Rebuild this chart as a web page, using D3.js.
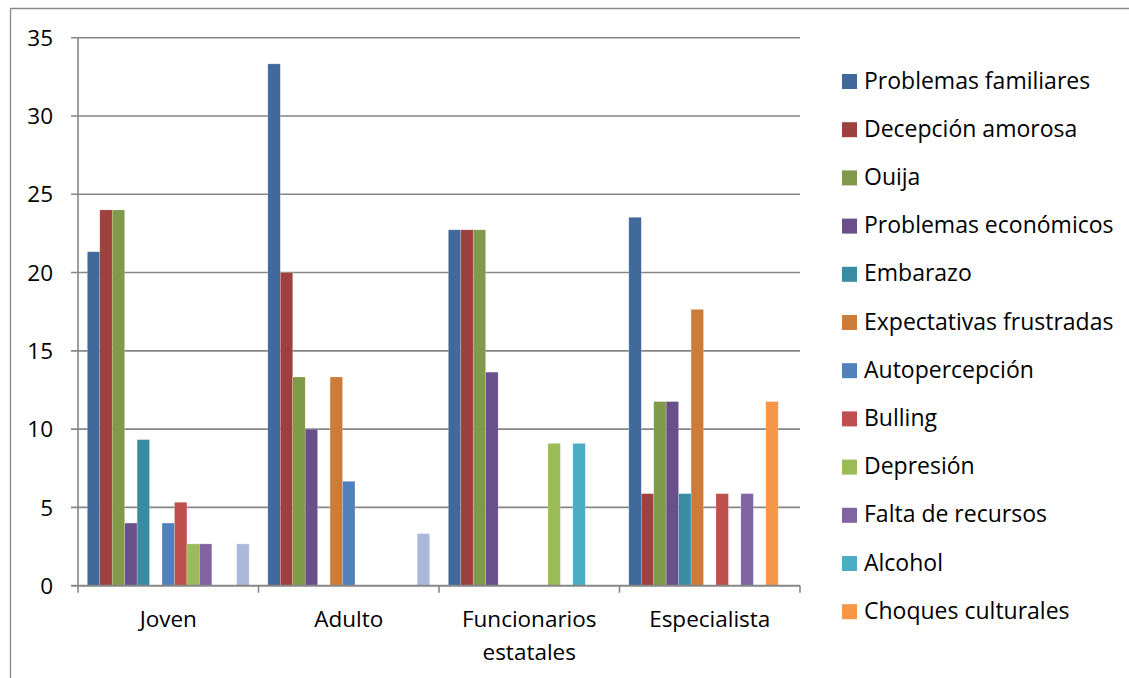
<!DOCTYPE html>
<html>
<head>
<meta charset="utf-8">
<script src="https://cdn.jsdelivr.net/npm/d3@7"></script>
<style>
  html, body { margin: 0; padding: 0; background: #fff; }
  svg { display: block; }
  text { font-family: "Open Sans", Lato, sans-serif; fill: #000; }
</style>
</head>
<body>
<svg id="chart" width="1129" height="678"></svg>
<script>
// Grupos y causas
const categories = [["Joven"], ["Adulto"], ["Funcionarios", "estatales"], ["Especialista"]];
const seriesNames = [
  "Problemas familiares", "Decepción amorosa", "Ouija", "Problemas económicos",
  "Embarazo", "Expectativas frustradas", "Autopercepción", "Bulling",
  "Depresión", "Falta de recursos", "Alcohol", "Choques culturales", "Otros"
];
const seriesColors = [
  "#41699b", "#9e403e", "#809a49", "#69508a", "#3a8ca4", "#cc7b38",
  "#4f81bd", "#c0504d", "#9bbb59", "#8064a2", "#4bacc6", "#f79646", "#aab9d9"
];
// Porcentajes por grupo (orden de seriesNames)
const joven        = [21.33, 24, 24, 4, 9.33, 0, 4, 5.33, 2.67, 2.67, 0, 0, 2.67];
const adulto       = [33.33, 20, 13.33, 10, 0, 13.33, 6.67, 0, 0, 0, 0, 0, 3.33];
const funcionarios = [22.73, 22.73, 22.73, 13.64, 0, 0, 0, 0, 9.09, 0, 9.09, 0, 0];
const especialista = [23.53, 5.88, 11.76, 11.76, 5.88, 17.65, 0, 5.88, 0, 5.88, 0, 11.76, 0];
const yTicks = [0, 5, 10, 15, 20, 25, 30, 35];
const legendCount = 12;

const groupValues = [joven, adulto, funcionarios, especialista];
const svg = d3.select("#chart");
const axisColor = "#868686";
const fontSize = 22.5;
const legendFontSize = 23;

// Marco exterior del gráfico
svg.append("path")
  .attr("d", "M10.5,690 V8.5 H1140")
  .attr("fill", "none").attr("stroke", "#8a8a8a").attr("stroke-width", 1.3);

const plot = { left: 78, right: 800, top: 37.7, bottom: 585.7 };

const x0 = d3.scaleBand()
  .domain(d3.range(categories.length))
  .range([plot.left, plot.right])
  .paddingInner(0).paddingOuter(0);

const x1 = d3.scaleBand()
  .domain(d3.range(seriesNames.length))
  .range([0, x0.bandwidth()])
  .paddingInner(0).paddingOuter(0.75);

const y = d3.scaleLinear().domain([0, 35]).range([plot.bottom, plot.top]);

// Líneas de cuadrícula y marcas del eje Y
const grid = svg.append("g");
grid.selectAll("line.grid")
  .data(yTicks)
  .join("line")
  .attr("x1", plot.left - 7).attr("x2", plot.right)
  .attr("y1", d => y(d)).attr("y2", d => y(d))
  .attr("stroke", axisColor).attr("stroke-width", 1.6);

grid.selectAll("text.ytick")
  .data(yTicks)
  .join("text")
  .attr("x", 53).attr("y", d => y(d))
  .attr("dy", "0.36em")
  .attr("text-anchor", "end")
  .attr("font-size", fontSize)
  .text(d => d);

// Barras
const groups = svg.append("g").selectAll("g")
  .data(groupValues)
  .join("g")
  .attr("transform", (d, i) => `translate(${x0(i)},0)`);

groups.selectAll("rect")
  .data(d => d.map((v, j) => ({ v, j })).filter(e => e.v > 0))
  .join("rect")
  .attr("x", e => x1(e.j))
  .attr("width", x1.bandwidth())
  .attr("y", e => y(e.v))
  .attr("height", e => y(0) - y(e.v))
  .attr("fill", e => seriesColors[e.j])
  .attr("stroke", "rgba(255,255,255,0.35)")
  .attr("stroke-width", 0.6);

// Ejes
svg.append("line")
  .attr("x1", plot.left).attr("x2", plot.left)
  .attr("y1", plot.top).attr("y2", plot.bottom + 0.5)
  .attr("stroke", axisColor).attr("stroke-width", 1.6);
svg.append("line")
  .attr("x1", plot.left - 7).attr("x2", plot.right)
  .attr("y1", plot.bottom).attr("y2", plot.bottom)
  .attr("stroke", axisColor).attr("stroke-width", 1.8);

const boundaries = d3.range(categories.length + 1).map(i =>
  i < categories.length ? x0(i) : x0(i - 1) + x0.bandwidth());
svg.selectAll("line.xtick")
  .data(boundaries)
  .join("line")
  .attr("x1", d => d).attr("x2", d => d)
  .attr("y1", plot.bottom).attr("y2", plot.bottom + 7)
  .attr("stroke", axisColor).attr("stroke-width", 1.6);

// Etiquetas de categoría
svg.selectAll("text.cat")
  .data(categories)
  .join("text")
  .attr("text-anchor", "middle")
  .attr("font-size", fontSize)
  .attr("x", (d, i) => x0(i) + x0.bandwidth() / 2)
  .attr("y", 627)
  .selectAll("tspan")
  .data(d => d)
  .join("tspan")
  .attr("x", function () { return d3.select(this.parentNode).attr("x"); })
  .attr("dy", (d, k) => k === 0 ? 0 : 33)
  .text(d => d);

// Leyenda
const legend = svg.append("g").selectAll("g")
  .data(seriesNames.slice(0, legendCount))
  .join("g")
  .attr("transform", (d, i) => `translate(842,${74 + i * 48.2})`);
legend.append("rect")
  .attr("width", 15).attr("height", 15)
  .attr("fill", (d, i) => seriesColors[i]);
legend.append("text")
  .attr("x", 22).attr("y", 14.5)
  .attr("font-size", legendFontSize)
  .text(d => d);
</script>
</body>
</html>
